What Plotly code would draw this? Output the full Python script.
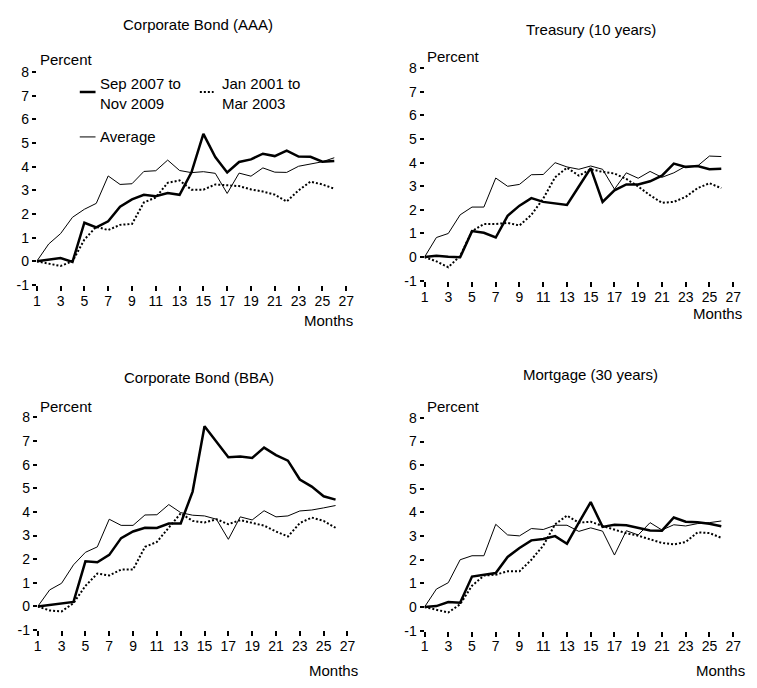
import plotly.graph_objects as go

# ---------------- data ----------------
months = list(range(1, 27))
x_tick_vals = list(range(1, 28, 2))
y_tick_vals = list(range(-1, 9))
y_tick_text = ["-1", "0", "1", "2", "3", "4", "5", "6", "7", "8"]

panel_titles = ["Corporate Bond (AAA)", "Treasury (10 years)",
                "Corporate Bond (BBA)", "Mortgage (30 years)"]
series_names = ["Sep 2007 to Nov 2009", "Jan 2001 to Mar 2003", "Average"]

aaa_2007 = [0, 0.07, 0.14, -0.03, 1.63, 1.43, 1.69, 2.31, 2.62, 2.81, 2.75, 2.89, 2.81,
            3.76, 5.39, 4.41, 3.76, 4.20, 4.31, 4.55, 4.45, 4.68, 4.43, 4.42, 4.21, 4.24]
aaa_2001 = [0, -0.10, -0.20, 0.0, 0.92, 1.46, 1.32, 1.54, 1.58, 2.49, 2.70, 3.32, 3.42,
            3.03, 3.03, 3.25, 3.20, 3.18, 3.04, 2.95, 2.82, 2.53, 3.00, 3.37, 3.25, 3.07]
aaa_avg = [0, 0.73, 1.17, 1.86, 2.20, 2.45, 3.61, 3.25, 3.28, 3.80, 3.83, 4.28, 3.84,
           3.75, 3.79, 3.72, 2.87, 3.73, 3.60, 3.95, 3.77, 3.76, 4.02, 4.12, 4.21, 4.38]

tsy_2007 = [0, 0.06, 0.01, -0.01, 1.10, 1.03, 0.83, 1.75, 2.18, 2.50, 2.34, 2.29, 2.21,
            2.99, 3.77, 2.34, 2.83, 3.08, 3.08, 3.21, 3.45, 3.96, 3.82, 3.86, 3.72, 3.74]
tsy_2001 = [0, -0.18, -0.43, 0.05, 1.10, 1.40, 1.40, 1.45, 1.34, 1.79, 2.48, 3.38, 3.79,
            3.45, 3.72, 3.61, 3.54, 3.31, 2.99, 2.62, 2.30, 2.34, 2.55, 2.92, 3.13, 2.92]
tsy_avg = [0, 0.83, 1.00, 1.79, 2.12, 2.12, 3.35, 3.00, 3.08, 3.49, 3.50, 4.00, 3.82,
           3.72, 3.86, 3.72, 2.88, 3.57, 3.34, 3.63, 3.38, 3.57, 3.85, 3.86, 4.28, 4.26]

bba_2007 = [0, 0.07, 0.12, 0.19, 1.91, 1.87, 2.18, 2.89, 3.17, 3.33, 3.32, 3.51, 3.51,
            4.86, 7.62, 6.97, 6.31, 6.34, 6.28, 6.72, 6.40, 6.17, 5.37, 5.07, 4.66, 4.52]
bba_2001 = [0, -0.17, -0.21, 0.14, 0.87, 1.39, 1.31, 1.56, 1.56, 2.52, 2.73, 3.32, 3.94,
            3.62, 3.55, 3.69, 3.48, 3.65, 3.53, 3.42, 3.17, 2.96, 3.53, 3.76, 3.62, 3.33]
bba_avg = [0, 0.70, 0.98, 1.76, 2.29, 2.52, 3.69, 3.43, 3.43, 3.87, 3.88, 4.31, 3.97,
           3.86, 3.83, 3.69, 2.84, 3.79, 3.66, 4.05, 3.79, 3.83, 4.04, 4.08, 4.17, 4.27]

mtg_2007 = [0, 0.04, 0.21, 0.18, 1.29, 1.37, 1.44, 2.12, 2.50, 2.82, 2.88, 3.00, 2.68,
            3.57, 4.44, 3.39, 3.48, 3.46, 3.35, 3.24, 3.23, 3.79, 3.61, 3.59, 3.52, 3.42]
mtg_2001 = [0, -0.11, -0.23, 0.12, 0.90, 1.33, 1.37, 1.51, 1.51, 2.00, 2.60, 3.50, 3.87,
            3.57, 3.61, 3.43, 3.26, 3.12, 3.02, 2.88, 2.71, 2.65, 2.75, 3.16, 3.13, 2.93]
mtg_avg = [0, 0.76, 1.03, 2.00, 2.17, 2.17, 3.50, 3.05, 3.01, 3.32, 3.28, 3.46, 3.46,
           3.20, 3.35, 3.21, 2.20, 3.23, 3.05, 3.57, 3.26, 3.48, 3.43, 3.53, 3.57, 3.64]

panel_data = [
    (aaa_2007, aaa_2001, aaa_avg),
    (tsy_2007, tsy_2001, tsy_avg),
    (bba_2007, bba_2001, bba_avg),
    (mtg_2007, mtg_2001, mtg_avg),
]

# ---------------- layout helpers ----------------
W, H = 757, 688
FONT = "Liberation Sans, Arial, Helvetica, sans-serif"
TEXT_SIZE = 15
TICK_SIZE = 14

def px(x):
    return x / W

def py(y):
    return 1 - y / H

# plot boxes in pixels: x at month 1, x at month 27, y at 8, y at -1
boxes = [
    (33.3, 347.7, 65.7, 283.5),
    (427.3, 740.9, 61.7, 279.2),
    (34.3, 349.0, 419.1, 636.9),
    (427.3, 740.9, 419.7, 637.5),
]
title_pos = [(197, 17), (596, 22), (198, 378), (596, 375)]
percent_pos = [(35, 53), (428, 50), (35, 408), (428, 408)]
months_pos = [(357, 320), (752, 313), (362, 678), (755, 678)]

fig = go.Figure()
layout_axes = {}
annotations = []

for i, (recent, old, avg) in enumerate(panel_data):
    n = i + 1
    xa = "x" if n == 1 else f"x{n}"
    ya = "y" if n == 1 else f"y{n}"
    x0, x1, yt, yb = boxes[i]
    fig.add_trace(go.Scatter(x=months, y=avg, xaxis=xa, yaxis=ya, mode="lines",
                             name=series_names[2], showlegend=False,
                             line=dict(color="black", width=1)))
    fig.add_trace(go.Scatter(x=months, y=old, xaxis=xa, yaxis=ya, mode="lines",
                             name=series_names[1], showlegend=False,
                             line=dict(color="black", width=2, dash="2px,2px")))
    fig.add_trace(go.Scatter(x=months, y=recent, xaxis=xa, yaxis=ya, mode="lines",
                             name=series_names[0], showlegend=False,
                             line=dict(color="black", width=2.5)))
    xkey = "xaxis" if n == 1 else f"xaxis{n}"
    ykey = "yaxis" if n == 1 else f"yaxis{n}"
    layout_axes[xkey] = dict(
        domain=[px(x0), px(x1)], range=[1, 27], anchor=ya,
        tickvals=x_tick_vals, ticks="outside", ticklen=5, tickwidth=2,
        tickcolor="black", showline=False, showgrid=False, zeroline=False,
        ticklabelstandoff=-2,
        tickfont=dict(family=FONT, size=TICK_SIZE, color="black"), fixedrange=True)
    layout_axes[ykey] = dict(
        domain=[py(yb), py(yt)], range=[-1, 8], anchor=xa,
        tickvals=y_tick_vals, ticktext=y_tick_text, ticks="outside", ticklen=4,
        tickwidth=2, tickcolor="black", showline=False, showgrid=False, zeroline=False,
        tickfont=dict(family=FONT, size=TICK_SIZE, color="black"), fixedrange=True)

    tx, ty = title_pos[i]
    annotations.append(dict(text=panel_titles[i], x=px(tx), y=py(ty), xref="paper",
                            yref="paper", showarrow=False, xanchor="center",
                            yanchor="middle",
                            font=dict(family=FONT, size=TEXT_SIZE, color="black")))
    pxp, pyp = percent_pos[i]
    annotations.append(dict(text="Percent", x=px(pxp), y=py(pyp), xref="paper",
                            yref="paper", showarrow=False, xanchor="left",
                            yanchor="middle",
                            font=dict(family=FONT, size=TEXT_SIZE, color="black")))
    mx, my = months_pos[i]
    annotations.append(dict(text="Months", x=px(mx), y=py(my), xref="paper",
                            yref="paper", showarrow=False, xanchor="right",
                            yanchor="middle",
                            font=dict(family=FONT, size=TEXT_SIZE, color="black")))

# ---------------- legend (first panel) ----------------
shapes = [
    dict(type="line", xref="paper", yref="paper", x0=px(77), x1=px(93), y0=py(86), y1=py(86),
         line=dict(color="black", width=2.5)),
    dict(type="line", xref="paper", yref="paper", x0=px(199), x1=px(213), y0=py(86), y1=py(86),
         line=dict(color="black", width=2, dash="2px,2px")),
    dict(type="line", xref="paper", yref="paper", x0=px(77), x1=px(93), y0=py(132), y1=py(132),
         line=dict(color="black", width=1)),
]

legend_font = dict(family=FONT, size=TEXT_SIZE, color="black")
annotations.append(dict(text="Sep 2007 to<br>Nov 2009", x=px(96), y=py(88), xref="paper",
                        yref="paper", showarrow=False, xanchor="left", yanchor="middle",
                        align="left", font=legend_font))
annotations.append(dict(text="Jan 2001 to<br>Mar 2003", x=px(219), y=py(88), xref="paper",
                        yref="paper", showarrow=False, xanchor="left", yanchor="middle",
                        align="left", font=legend_font))
annotations.append(dict(text="Average", x=px(96), y=py(132), xref="paper",
                        yref="paper", showarrow=False, xanchor="left", yanchor="middle",
                        align="left", font=legend_font))

fig.update_layout(
    width=W, height=H, margin=dict(l=0, r=0, t=0, b=0),
    paper_bgcolor="white", plot_bgcolor="white",
    showlegend=False, annotations=annotations, shapes=shapes,
    font=dict(family=FONT, color="black"),
    **layout_axes,
)

fig.write_html(
    "out.html",
    config={"displayModeBar": False},
    post_script="document.body.style.margin='0';document.body.style.overflow='hidden';",
)
